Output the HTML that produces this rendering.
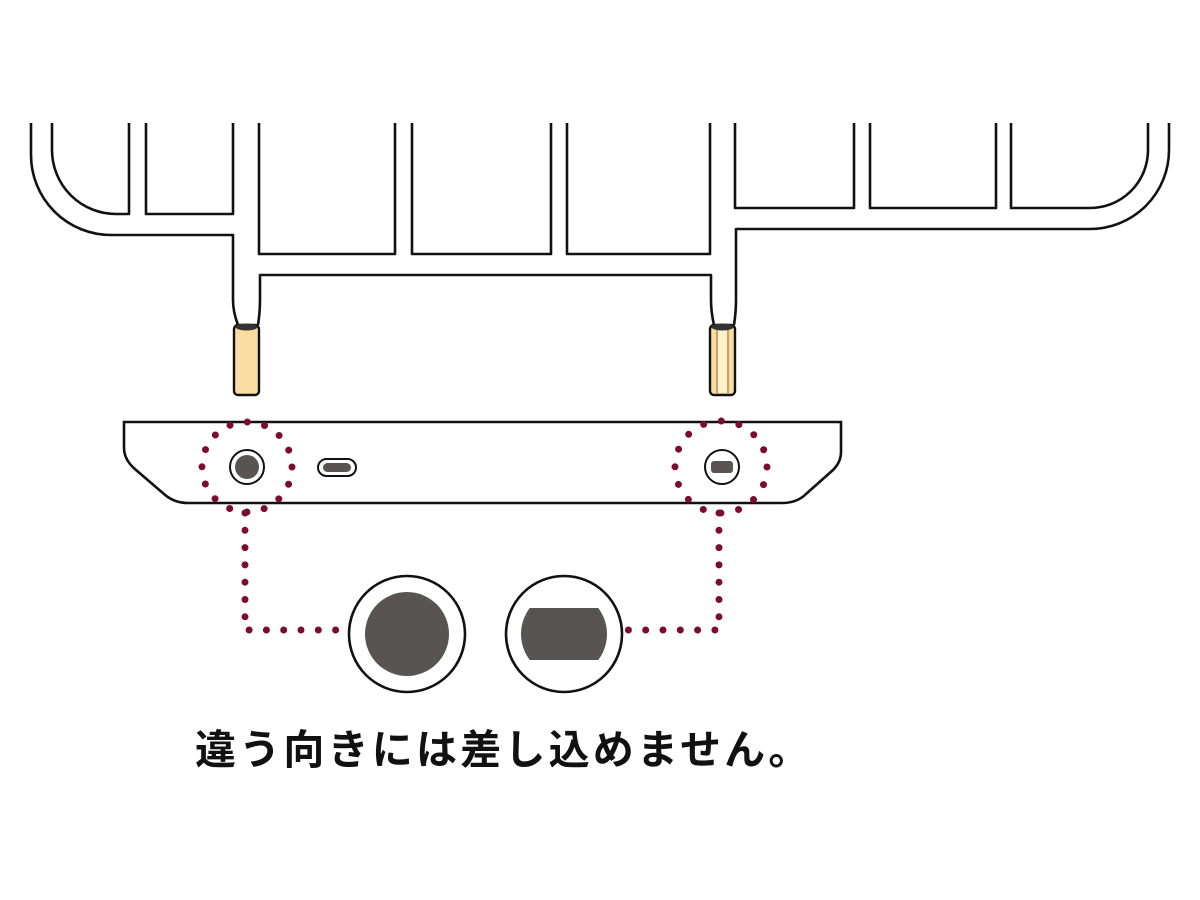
<!DOCTYPE html>
<html><head><meta charset="utf-8"><style>html,body{margin:0;padding:0;background:#fff}
.t{position:absolute;left:195px;top:724px;font-family:'Liberation Sans','Noto Sans CJK JP',sans-serif;font-size:41px;font-weight:bold;color:#111;letter-spacing:3.2px;white-space:nowrap;line-height:52px}</style></head>
<body>
<svg width="1200" height="900" viewBox="0 0 1200 900" xmlns="http://www.w3.org/2000/svg" style="position:absolute;left:0;top:0">
<g fill="none" stroke="#111" stroke-width="2.6" stroke-linejoin="round">
<path d="M31 123 V155 A80 80 0 0 0 111 235 H233 V300 Q233 312 238 325"/>
<path d="M258 325 Q260 312 260 300 V275 H711 V300 Q711 312 714 325"/>
<path d="M734 325 Q736 312 736 300 V229 H1090 A79 79 0 0 0 1169 150 V123"/>
<path d="M52 123 V150 A64 64 0 0 0 116 214 H129 V123"/>
<path d="M146 123 V214 H233 V123"/>
<path d="M259 123 V254 H395 V123"/>
<path d="M412 123 V254 H551 V123"/>
<path d="M567 123 V254 H710 V123"/>
<path d="M735 123 V208 H854 V123"/>
<path d="M870 123 V208 H996 V123"/>
<path d="M1011 123 V208 H1090 A58 58 0 0 0 1148 150 V123"/>
</g>
<rect x="234" y="325" width="25" height="70" rx="4" fill="#f8dca2" stroke="#111" stroke-width="2.4"/>
<ellipse cx="246.5" cy="327" rx="11" ry="3.5" fill="#333"/>
<rect x="710" y="325" width="25" height="70" rx="4" fill="#f8dca2" stroke="#111" stroke-width="2.4"/>
<line x1="717" y1="328" x2="717" y2="393" stroke="#b09060" stroke-width="1.5"/>
<line x1="728" y1="328" x2="728" y2="393" stroke="#b09060" stroke-width="1.5"/>
<rect x="718" y="328" width="9" height="65" fill="#fff2c8"/>
<ellipse cx="722.5" cy="327" rx="11" ry="3.5" fill="#333"/>
<path d="M124 422 H841 V452 Q841 462 833 470 L806 494 Q797 503 782 503 H188 Q174 503 164 494 L136 470 Q124 460 124 448 Z" fill="#fff" stroke="#111" stroke-width="2.6"/>
<circle cx="247" cy="467" r="17" fill="#fff" stroke="#111" stroke-width="2"/>
<circle cx="247" cy="467" r="12" fill="#585454"/>
<rect x="318" y="459" width="38" height="17" rx="8.5" fill="#fff" stroke="#111" stroke-width="2"/>
<rect x="323" y="463" width="28" height="9" rx="4.5" fill="#585454"/>
<circle cx="722" cy="467" r="17" fill="#fff" stroke="#111" stroke-width="2"/>
<rect x="711" y="461" width="22" height="12" rx="3" fill="#585454"/>
<g fill="none" stroke="#7d0b2e" stroke-width="7" stroke-linecap="round">
<circle cx="247" cy="467" r="45" stroke-dasharray="0 17.67"/>
<circle cx="721" cy="467" r="46" stroke-dasharray="0 18.06"/>
<path d="M245 513 V630 H337" stroke-dasharray="0 17.3"/>
<path d="M719 513 V630 H627" stroke-dasharray="0 17.3"/>
</g>
<circle cx="407" cy="634" r="58" fill="#fff" stroke="#111" stroke-width="2.6"/>
<circle cx="407" cy="634" r="42" fill="#585454"/>
<circle cx="564" cy="634" r="58" fill="#fff" stroke="#111" stroke-width="2.6"/>
<clipPath id="c"><rect x="500" y="608" width="130" height="52"/></clipPath>
<circle cx="564" cy="634" r="43" fill="#585454" clip-path="url(#c)"/>
</svg>
<div class="t">違う向きには差し込めません。</div>
</body></html>
